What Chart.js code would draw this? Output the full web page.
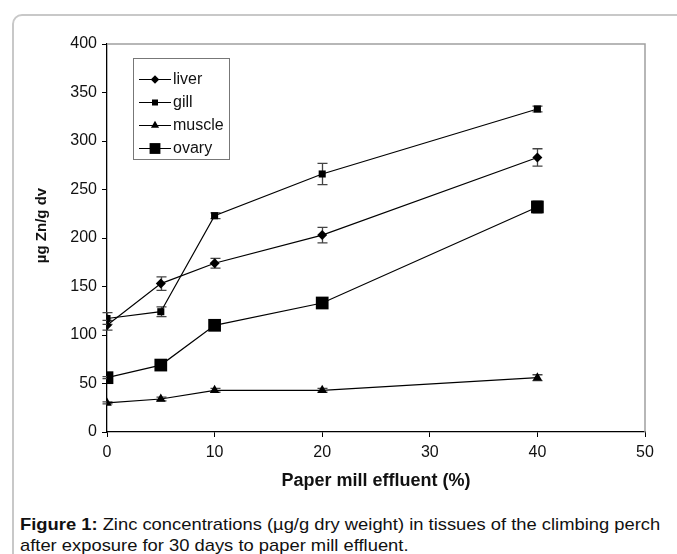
<!DOCTYPE html>
<html>
<head>
<meta charset="utf-8">
<script src="https://cdn.jsdelivr.net/npm/chart.js@4/dist/chart.umd.min.js"></script>
<style>
  body { margin: 0; background: #fff; }
  #wrap { position: relative; width: 677px; height: 554px; overflow: hidden; }
  #frame { position: absolute; left: 12px; top: 14px; width: 700px; height: 600px;
           border: 2px solid #c8c8c8; border-radius: 10px; box-sizing: border-box; }
  #chart { position: absolute; left: 0; top: 0; }
  #caption { position: absolute; left: 20px; top: 514px; font-family: "Liberation Sans", Arial, sans-serif;
             font-size: 17px; line-height: 21px; color: #111; white-space: nowrap;
             transform: scaleX(1.08); transform-origin: 0 0; }
</style>
</head>
<body>
<div id="wrap">
  <div id="frame"></div>
  <canvas id="chart" width="677" height="500"></canvas>
  <div id="caption"><b>Figure 1:</b> Zinc concentrations (µg/g dry weight) in tissues of the climbing perch<br>after exposure for 30 days to paper mill effluent.</div>
</div>
<script>
// Concentração do efluente (%)
const effluent = [0, 5, 10, 20, 40];

// Valores médios por tecido
const liver = [110, 153, 174, 203, 283];
const gill = [117, 124, 223, 266, 333];
const muscle = [30, 34, 43, 43, 56];
const ovary = [56, 69, 110, 133, 232];

// Barras de erro (±)
const liverErr = [5, 7, 5, 8, 9];
const gillErr = [6, 5, 3, 11, 3];
const muscleErr = [1, 2, 2, 2, 3];
const ovaryErr = [1, 1, 1, 1, 6];

const seriesNames = ['liver', 'gill', 'muscle', 'ovary'];

const FONT = '"Liberation Sans", Arial, sans-serif';

function toPoints(values) {
    return effluent.map((x, i) => ({ x: x, y: values[i] }));
}

// Plugin para barras de erro
const errorBars = {
    id: 'errorBars',
    beforeDatasetsDraw(chart) {
        const ctx = chart.ctx;
        const xs = chart.scales.x;
        const ys = chart.scales.y;
        const errs = [liverErr, gillErr, muscleErr, ovaryErr];
        const vals = [liver, gill, muscle, ovary];
        ctx.save();
        ctx.strokeStyle = '#444';
        ctx.lineWidth = 1.3;
        errs.forEach((err, s) => {
            err.forEach((e, i) => {
                const px = Math.round(xs.getPixelForValue(effluent[i])) + 0.5;
                const top = ys.getPixelForValue(vals[s][i] + e);
                const bot = ys.getPixelForValue(vals[s][i] - e);
                ctx.beginPath();
                ctx.moveTo(px, top); ctx.lineTo(px, bot);
                ctx.moveTo(px - 5, top); ctx.lineTo(px + 5, top);
                ctx.moveTo(px - 5, bot); ctx.lineTo(px + 5, bot);
                ctx.stroke();
            });
        });
        ctx.restore();
    }
};

// Plugin para borda cinza (topo e direita) e legenda
const frameAndLegend = {
    id: 'frameAndLegend',
    beforeDatasetsDraw(chart) {
        const { ctx, chartArea } = chart;
        ctx.save();
        ctx.strokeStyle = '#a0a0a0';
        ctx.lineWidth = 1.5;
        ctx.beginPath();
        ctx.moveTo(chartArea.left, chartArea.top);
        ctx.lineTo(chartArea.right, chartArea.top);
        ctx.lineTo(chartArea.right, chartArea.bottom);
        ctx.stroke();
        ctx.restore();
    },
    afterDraw(chart) {
        const ctx = chart.ctx;
        const box = { left: 133, top: 58, right: 229, bottom: 159 };
        ctx.save();
        ctx.fillStyle = '#fff';
        ctx.fillRect(box.left, box.top, box.right - box.left, box.bottom - box.top);
        ctx.strokeStyle = '#777';
        ctx.lineWidth = 1;
        ctx.strokeRect(box.left + 0.5, box.top + 0.5, box.right - box.left, box.bottom - box.top);
        const rows = [79, 102, 125, 148];
        chart.data.datasets.forEach((ds, i) => {
            const y = rows[i];
            ctx.strokeStyle = '#000';
            ctx.lineWidth = 1;
            ctx.beginPath();
            ctx.moveTo(139, y + 0.5);
            ctx.lineTo(171, y + 0.5);
            ctx.stroke();
            ctx.fillStyle = '#000';
            Chart.helpers.drawPoint(ctx, {
                pointStyle: ds.pointStyle,
                radius: ds.pointRadius * 0.85,
                rotation: 0,
                borderWidth: 0
            }, 155, y + 0.5);
            ctx.fillStyle = '#111';
            ctx.font = '16px ' + FONT;
            ctx.textBaseline = 'middle';
            ctx.fillText(ds.label, 173, y + 1);
        });
        ctx.restore();
    }
};

function makeDataset(label, values, style, radius) {
    return {
        label: label,
        data: toPoints(values),
        borderColor: '#000',
        borderWidth: 1.2,
        backgroundColor: '#000',
        pointStyle: style,
        pointRadius: radius,
        pointHoverRadius: radius,
        pointBackgroundColor: '#000',
        pointBorderColor: '#000',
        pointBorderWidth: 0,
        tension: 0,
        fill: false
    };
}

const chart = new Chart(document.getElementById('chart'), {
    type: 'line',
    data: {
        datasets: [
            makeDataset(seriesNames[0], liver, 'rectRot', 5),
            makeDataset(seriesNames[1], gill, 'rect', 5),
            makeDataset(seriesNames[2], muscle, 'triangle', 5.5),
            makeDataset(seriesNames[3], ovary, 'rect', 9)
        ]
    },
    options: {
        responsive: false,
        animation: false,
        layout: { padding: { top: 44, right: 32, left: 0, bottom: 0 } },
        plugins: {
            legend: { display: false },
            tooltip: { enabled: false }
        },
        scales: {
            x: {
                type: 'linear',
                min: 0,
                max: 50,
                ticks: { stepSize: 10, color: '#111', font: { family: FONT, size: 16 }, padding: 6, maxRotation: 0 },
                grid: { display: true, drawOnChartArea: false, drawTicks: true, tickLength: 5, color: '#000' },
                border: { display: true, color: '#000', width: 1.3 },
                title: { display: true, text: 'Paper mill effluent (%)', color: '#111',
                         font: { family: FONT, size: 18, weight: 'bold' }, padding: { top: 0, bottom: 8 } },
                afterFit(scale) { scale.height = 68; }
            },
            y: {
                min: 0,
                max: 400,
                ticks: { stepSize: 50, color: '#111', font: { family: FONT, size: 16 }, padding: 5 },
                grid: { display: true, drawOnChartArea: false, drawTicks: true, tickLength: 5, color: '#000' },
                border: { display: true, color: '#000', width: 1.3 },
                // espaços à esquerda sobem o título para a posição do original
                title: { display: true, text: '\u00a0\u00a0\u00a0\u00a0\u00a0\u00a0µg Zn/g dv', color: '#111',
                         font: { family: FONT, size: 15, weight: 'bold' }, padding: { top: 33, bottom: 0 } },
                afterFit(scale) { scale.width = 107; }
            }
        }
    },
    plugins: [errorBars, frameAndLegend]
});
</script>
</body>
</html>
